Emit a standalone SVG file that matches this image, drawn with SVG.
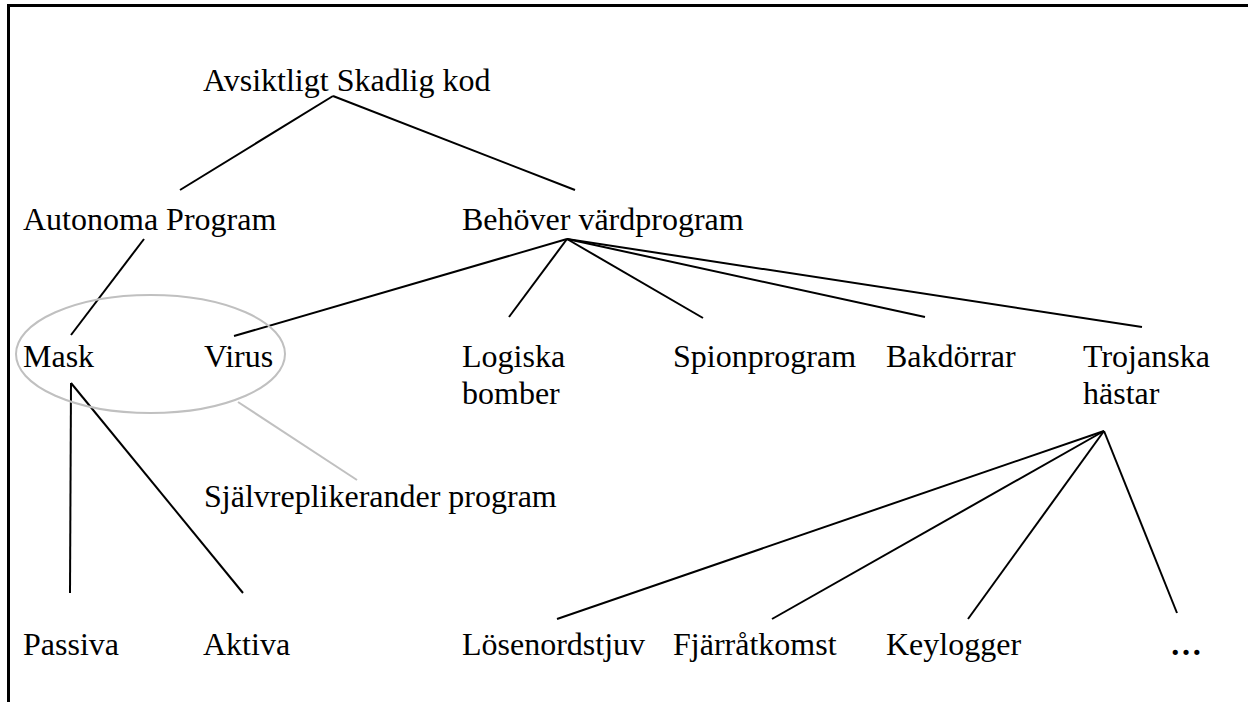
<svg xmlns="http://www.w3.org/2000/svg" width="1248" height="702" viewBox="0 0 1248 702">
<style>
text{font-family:"Liberation Serif","Times New Roman",serif;font-size:32px;fill:#000}
.c line{stroke:#000;stroke-width:2}
.g{stroke:#c0c0c0;stroke-width:2;fill:none}
.b{stroke:#000;stroke-width:3;fill:none}
</style>
<rect x="0" y="0" width="1248" height="702" fill="#fff"/>
<g id="frame">
<line class="b" x1="7" y1="5.5" x2="1248" y2="5.5"/>
<line class="b" x1="8.5" y1="4" x2="8.5" y2="702"/>
</g>
<g class="c" id="connectors">
<line x1="333" y1="96" x2="180" y2="190"/>
<line x1="333" y1="96" x2="575" y2="190"/>
<line x1="144" y1="239" x2="71" y2="335"/>
<line x1="567" y1="239" x2="234" y2="336"/>
<line x1="567" y1="239" x2="509" y2="317"/>
<line x1="567" y1="239" x2="703" y2="318"/>
<line x1="567" y1="239" x2="925" y2="317"/>
<line x1="567" y1="239" x2="1142" y2="327"/>
<line x1="71" y1="383" x2="70" y2="593"/>
<line x1="71" y1="383" x2="243" y2="593"/>
<line x1="1104" y1="431" x2="557" y2="619"/>
<line x1="1104" y1="431" x2="772" y2="619"/>
<line x1="1104" y1="431" x2="968" y2="619"/>
<line x1="1104" y1="431" x2="1177" y2="613"/>
</g>
<g id="selfreplicating">
<ellipse class="g" cx="150.5" cy="354" rx="134.5" ry="59"/>
<line class="g" x1="238" y1="402" x2="357" y2="480"/>
</g>
<g id="n-avsiktligt"><text x="203" y="91">Avsiktligt Skadlig kod</text></g>
<g id="n-autonoma"><text x="23" y="230">Autonoma Program</text></g>
<g id="n-behover"><text x="462" y="230">Behöver värdprogram</text></g>
<g id="n-mask"><text x="23" y="367">Mask</text></g>
<g id="n-virus"><text x="204" y="367">Virus</text></g>
<g id="n-logiska"><text x="462" y="367">Logiska</text><text x="462" y="404">bomber</text></g>
<g id="n-spion"><text x="673" y="367">Spionprogram</text></g>
<g id="n-bakdorrar"><text x="886" y="367">Bakdörrar</text></g>
<g id="n-trojanska"><text x="1083" y="367">Trojanska</text><text x="1083" y="404">hästar</text></g>
<g id="n-sjalvrep"><text x="204" y="507">Självreplikerander program</text></g>
<g id="n-passiva"><text x="23" y="655">Passiva</text></g>
<g id="n-aktiva"><text x="203" y="655">Aktiva</text></g>
<g id="n-losen"><text x="462" y="655">Lösenordstjuv</text></g>
<g id="n-fjarr"><text x="673" y="655">Fjärråtkomst</text></g>
<g id="n-keylogger"><text x="886" y="655">Keylogger</text></g>
<g id="n-more"><text x="1170" y="655" font-weight="bold">…</text></g>
</svg>
